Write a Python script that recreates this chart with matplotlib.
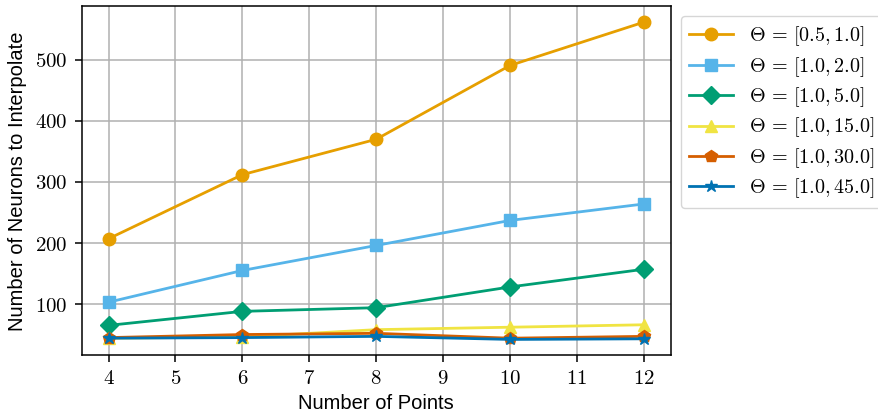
import matplotlib
matplotlib.use('Agg')
import matplotlib.pyplot as plt
from matplotlib.ticker import FuncFormatter

plt.rcParams['font.family'] = ['Liberation Sans', 'DejaVu Sans']
plt.rcParams['mathtext.fontset'] = 'cm'

points = [4, 6, 8, 10, 12]
theta_05_1 = [207, 312, 370, 491, 562]
theta_1_2 = [103, 155, 196, 237, 264]
theta_1_5 = [65, 88, 94, 128, 157]
theta_1_15 = [44, 46, 58, 62, 66]
theta_1_30 = [45, 50, 52, 44, 47]
theta_1_45 = [44, 45, 47, 42, 43]

labels = [r'$\Theta\,=\,[0.5, 1.0]$', r'$\Theta\,=\,[1.0, 2.0]$', r'$\Theta\,=\,[1.0, 5.0]$',
          r'$\Theta\,=\,[1.0, 15.0]$', r'$\Theta\,=\,[1.0, 30.0]$', r'$\Theta\,=\,[1.0, 45.0]$']
colors = ['#E69F00', '#56B4E9', '#009E73', '#F0E442', '#D55E00', '#0072B2']
markers = ['o', 's', 'D', '^', 'p', '*']
series = [theta_05_1, theta_1_2, theta_1_5, theta_1_15, theta_1_30, theta_1_45]

fig, ax = plt.subplots(figsize=(8.79, 4.17), dpi=100)
for vals, lab, c, m in zip(series, labels, colors, markers):
    ax.plot(points, vals, label=lab, color=c, marker=m, linewidth=2, markersize=9)

ax.set_xticks(range(4, 13))
ax.set_yticks([100, 200, 300, 400, 500])
fmt = FuncFormatter(lambda v, p: r'$%d$' % v)
ax.xaxis.set_major_formatter(fmt)
ax.yaxis.set_major_formatter(fmt)
ax.tick_params(labelsize=15, length=5, width=1.1, pad=5)
for s in ax.spines.values():
    s.set_linewidth(1.1)
ax.grid(True, color='#b0b0b0', linewidth=1.1)
ax.set_axisbelow(True)
ax.set_xlabel('Number of Points', fontsize=14.5, labelpad=4)
ax.set_ylabel('Number of Neurons to Interpolate', fontsize=14.5, labelpad=6)
ax.legend(loc='upper left', bbox_to_anchor=(1.0, 1.0), fontsize=14.5,
          labelspacing=0.33, handlelength=2.2)

fig.subplots_adjust(left=0.093, right=0.763, top=0.985, bottom=0.148)
fig.savefig('out.png', dpi=100)
